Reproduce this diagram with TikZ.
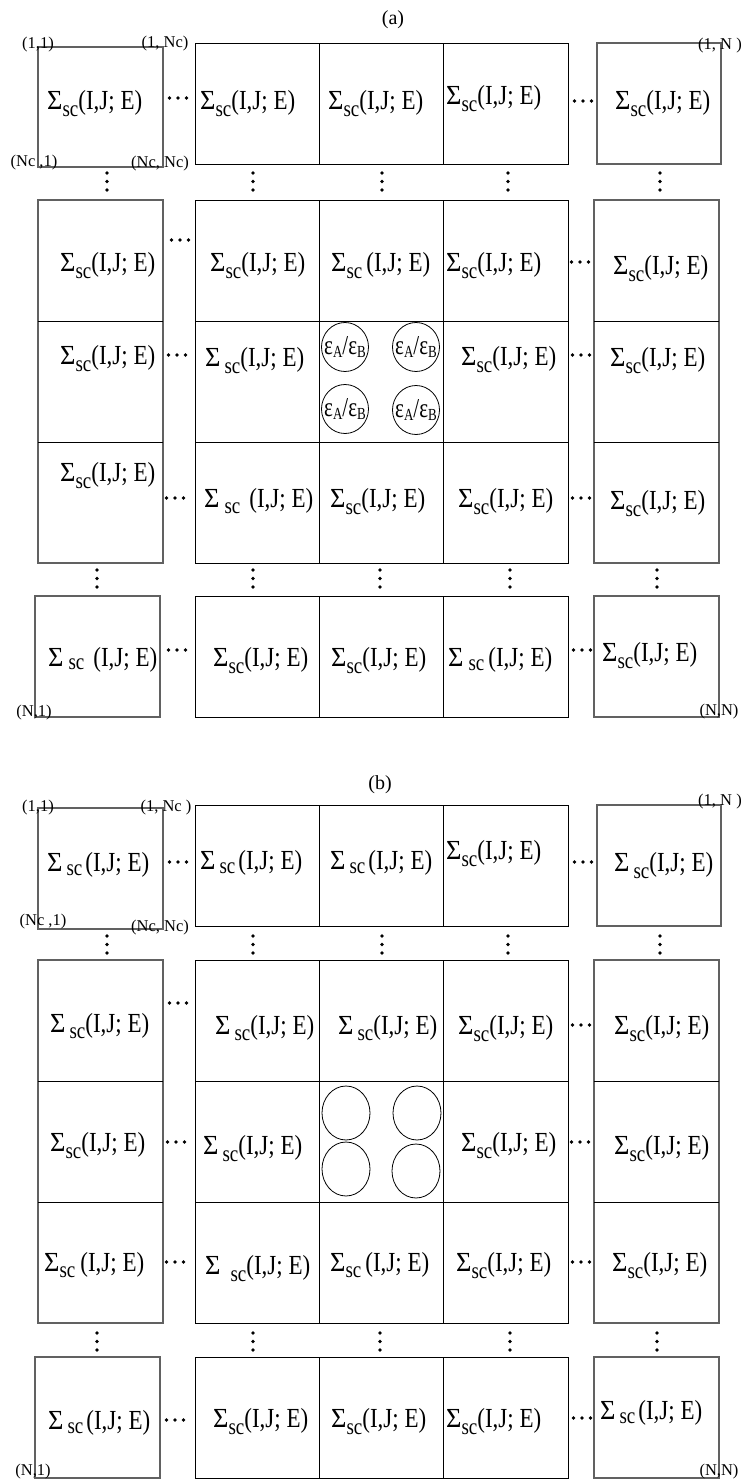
\documentclass[tikz,border=0pt]{standalone}
\usepackage{fontspec}
\setmainfont{Liberation Serif}
\usepackage{graphicx}
\usetikzlibrary{shapes.geometric}

% Sigma_sc(I,J; E) : #1 gap before sc, #2 gap after sc, #3 lowering of sc
\newcommand{\sg}[3]{\scalebox{1}[1.2]{\scalebox{1.15}[1]{Σ}\hspace{#1pt}\raisebox{-#3pt}{\fontsize{19}{19}\selectfont sc}\hspace{#2pt}(I,J; E)}}
\newcommand{\sgt}{\sg{0}{0}{6}}
\newcommand{\epsab}{\scalebox{1}[1.3]{ε\raisebox{-3pt}{\fontsize{13}{13}\selectfont A}/ε\raisebox{-3pt}{\fontsize{13}{13}\selectfont B}}}
\newcommand{\hd}[2]{\fill (#1-8.5,#2) circle (1.8pt) (#1,#2) circle (1.8pt) (#1+8.5,#2) circle (1.8pt);}
\newcommand{\vd}[2]{\fill (#1,#2) circle (1.8pt) (#1,#2+8.5) circle (1.8pt) (#1,#2+17) circle (1.8pt);}

\tikzset{
  outer/.style={draw=black!62, line width=1.1pt},
  inner/.style={draw=black, line width=1pt},
  lab/.style={anchor=base west, inner sep=0pt, font=\fontsize{23}{27}\selectfont},
  corner/.style={inner sep=0pt, font=\fontsize{16.5}{18}\selectfont},
  title/.style={inner sep=0pt, font=\fontsize{20}{22}\selectfont},
  ell/.style={draw, ellipse, inner sep=0pt, line width=0.8pt},
  epslab/.style={label={[inner sep=0pt, font=\fontsize{21}{24}\selectfont]center:\epsab}}
}

\begin{document}
\begin{tikzpicture}[x=1pt, y=-1pt]
\useasboundingbox (0,0) rectangle (743,1483);

% ================= panel (a) =================
\node[title] (ta) at (393,20) {(a)};
% row 1
\draw[outer] (38,47) rectangle (163,167);
\draw[inner] (195,43) rectangle (568,164) (319,43) -- (319,164) (443,43) -- (443,164);
\draw[outer] (597,43) rectangle (721,164);
% rows 2-4
\draw[outer] (38,200) rectangle (163,563);
\draw[inner] (38,321) -- (163,321) (38,442) -- (163,442);
\draw[inner] (195,200) rectangle (568,563) (319,200) -- (319,563) (443,200) -- (443,563)
  (195,321) -- (568,321) (195,442) -- (568,442);
\draw[outer] (594,200) rectangle (719,563);
\draw[inner] (594,321) -- (719,321) (594,442) -- (719,442);
% row 5
\draw[outer] (35,596) rectangle (160,717);
\draw[inner] (195,596) rectangle (568,717) (319,596) -- (319,717) (443,596) -- (443,717);
\draw[outer] (594,596) rectangle (719,717);

% corner labels
\node[corner] (a11) at (38,45) {(1,1)};
\node[corner] (a1nc) at (165,44) {(1, Nc)};
\node[corner] (anc1) at (34,163) {(Nc ,1)};
\node[corner] (ancnc) at (160,164) {(Nc, Nc)};
\node[corner] (a1n) at (720,46) {(1, N )};
\node[corner] (an1) at (34,713) {(N,1)};
\node[corner] (ann) at (719,712) {(N,N)};

% texts
\node[lab] (a-1-1) at (47,109) {\sgt};
\node[lab] (a-1-2) at (200,109) {\sgt};
\node[lab] (a-1-3) at (328,109) {\sgt};
\node[lab] (a-1-4) at (446,104) {\sgt};
\node[lab] (a-1-5) at (615,109) {\sgt};
\node[lab] (a-2-1) at (60,271) {\sgt};
\node[lab] (a-2-2) at (210,271) {\sgt};
\node[lab] (a-2-3) at (331,271) {\sg{0}{4}{6}};
\node[lab] (a-2-4) at (446,271) {\sgt};
\node[lab] (a-2-5) at (613,274) {\sgt};
\node[lab] (a-3-1) at (60,364) {\sgt};
\node[lab] (a-3-2) at (205,366) {\sg{4}{0}{6}};
\node[lab] (a-3-4) at (461,365) {\sgt};
\node[lab] (a-3-5) at (610,366) {\sgt};
\node[lab] (a-4-1) at (60,481) {\sgt};
\node[lab] (a-4-2) at (204,507) {\sg{5}{9}{5}};
\node[lab] (a-4-3) at (330,507) {\sgt};
\node[lab] (a-4-4) at (458,507) {\sgt};
\node[lab] (a-4-5) at (610,509) {\sgt};
\node[lab] (a-5-1) at (48,666) {\sg{5}{9}{3}};
\node[lab] (a-5-2) at (213,666) {\sgt};
\node[lab] (a-5-3) at (331,666) {\sgt};
\node[lab] (a-5-4) at (448,666) {\sg{5}{4}{4}};
\node[lab] (a-5-5) at (602,661) {\sgt};

% ellipses
\node[ell, epslab, minimum width=47pt, minimum height=49pt] (ea1) at (345,347) {};
\node[ell, epslab, minimum width=47pt, minimum height=49pt] (ea2) at (416,347) {};
\node[ell, epslab, minimum width=47pt, minimum height=49pt] (ea3) at (345,409) {};
\node[ell, epslab, minimum width=47pt, minimum height=49pt] (ea4) at (416,410) {};

% dots
\hd{178}{98} \hd{583}{101}
\hd{180}{240} \hd{580}{262}
\hd{177}{355} \hd{581}{355}
\hd{175}{498} \hd{581}{498}
\hd{177}{650} \hd{582}{650}
\vd{107}{173} \vd{253}{173} \vd{382}{173} \vd{508}{173} \vd{660}{173}
\vd{97}{570} \vd{253}{570} \vd{380}{570} \vd{510}{570} \vd{657}{570}

% ================= panel (b) =================
\node[title] (tb) at (380,785) {(b)};
\draw[outer] (38,808) rectangle (163,929);
\draw[inner] (195,805) rectangle (568,926) (319,805) -- (319,926) (443,805) -- (443,926);
\draw[outer] (597,805) rectangle (721,926);
\draw[outer] (38,960) rectangle (163,1323);
\draw[inner] (38,1081) -- (163,1081) (38,1202) -- (163,1202);
\draw[inner] (195,960) rectangle (568,1323) (319,960) -- (319,1323) (443,960) -- (443,1323)
  (195,1081) -- (568,1081) (195,1202) -- (568,1202);
\draw[outer] (594,960) rectangle (719,1323);
\draw[inner] (594,1081) -- (719,1081) (594,1202) -- (719,1202);
\draw[outer] (35,1357) rectangle (160,1478);
\draw[inner] (195,1357) rectangle (568,1478) (319,1357) -- (319,1478) (443,1357) -- (443,1478);
\draw[outer] (594,1357) rectangle (719,1478);

\node[corner] (b11) at (38,808) {(1,1)};
\node[corner] (b1nc) at (166,808) {(1, Nc )};
\node[corner] (bnc1) at (43,922) {(Nc ,1)};
\node[corner] (bncnc) at (160,928) {(Nc, Nc)};
\node[corner] (b1n) at (720,802) {(1, N )};
\node[corner] (bn1) at (33,1472) {(N,1)};
\node[corner] (bnn) at (719,1472) {(N,N)};

\node[lab] (b-1-1) at (47,871) {\sg{4}{3}{4}};
\node[lab] (b-1-2) at (200,869) {\sg{4}{3}{4}};
\node[lab] (b-1-3) at (330,869) {\sg{4}{3}{4}};
\node[lab] (b-1-4) at (446,859) {\sgt};
\node[lab] (b-1-5) at (614,871) {\sg{4}{0}{6}};
\node[lab] (b-2-1) at (50,1032) {\sg{4}{0}{5}};
\node[lab] (b-2-2) at (215,1034) {\sg{4}{0}{5}};
\node[lab] (b-2-3) at (338,1034) {\sg{4}{0}{5}};
\node[lab] (b-2-4) at (458,1034) {\sgt};
\node[lab] (b-2-5) at (614,1034) {\sgt};
\node[lab] (b-3-1) at (50,1151) {\sgt};
\node[lab] (b-3-2) at (203,1154) {\sg{4}{0}{6}};
\node[lab] (b-3-4) at (461,1151) {\sgt};
\node[lab] (b-3-5) at (614,1154) {\sgt};
\node[lab] (b-4-1) at (44,1271) {\sg{0}{5}{5}};
\node[lab] (b-4-2) at (205,1274) {\sg{10}{0}{6}};
\node[lab] (b-4-3) at (330,1271) {\sg{0}{4}{5}};
\node[lab] (b-4-4) at (456,1271) {\sgt};
\node[lab] (b-4-5) at (612,1271) {\sgt};
\node[lab] (b-5-1) at (48,1429) {\sg{4}{3}{4}};
\node[lab] (b-5-2) at (213,1427) {\sgt};
\node[lab] (b-5-3) at (331,1427) {\sgt};
\node[lab] (b-5-4) at (446,1427) {\sgt};
\node[lab] (b-5-5) at (600,1419) {\sg{4}{3}{4}};

\node[ell, minimum width=48pt, minimum height=54pt] (eb1) at (346,1113) {};
\node[ell, minimum width=48pt, minimum height=54pt] (eb2) at (417,1113) {};
\node[ell, minimum width=48pt, minimum height=54pt] (eb3) at (346,1169) {};
\node[ell, minimum width=48pt, minimum height=54pt] (eb4) at (416,1171) {};

\hd{178}{862} \hd{583}{862}
\hd{178}{1003} \hd{581}{1025}
\hd{176}{1142} \hd{580}{1142}
\hd{175}{1262} \hd{581}{1262}
\hd{175}{1420} \hd{582}{1418}
\vd{107}{936} \vd{253}{936} \vd{382}{936} \vd{508}{936} \vd{660}{936}
\vd{97}{1333} \vd{253}{1333} \vd{380}{1333} \vd{510}{1333} \vd{657}{1333}
\end{tikzpicture}
\end{document}
